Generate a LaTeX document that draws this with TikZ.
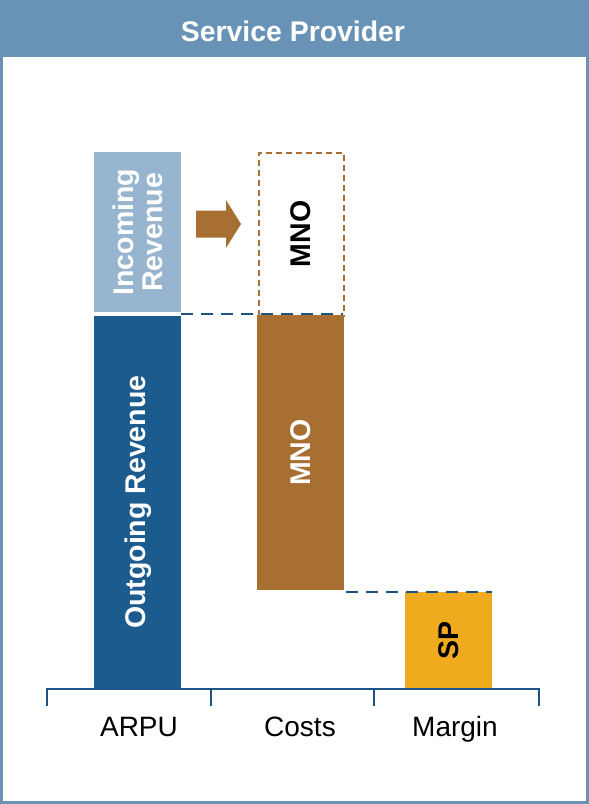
\documentclass[tikz,border=0pt]{standalone}
\usepackage{fontspec}
\setmainfont{Liberation Sans}
\definecolor{hdrblue}{HTML}{6893B6}
\definecolor{lightblue}{HTML}{97B5CE}
\definecolor{darkblue}{HTML}{1C5B8D}
\definecolor{axisblue}{HTML}{1B5385}
\definecolor{brown}{HTML}{A86F33}
\definecolor{amber}{HTML}{F0AA1E}
\tikzset{
  bar/.style={draw=none, minimum width=87pt, inner sep=0pt, anchor=north west},
  bartext/.style={font=\fontsize{28.5}{32}\selectfont\bfseries, rotate=90},
  guide/.style={draw=axisblue, line width=2.6pt, dash pattern=on 11.5pt off 8.5pt},
  axisline/.style={draw=axisblue, line width=2pt},
  cat/.style={font=\fontsize{28}{32}\selectfont, anchor=base}
}
\begin{document}
\begin{tikzpicture}[x=1pt, y=-1pt]
\useasboundingbox (0,0) rectangle (589,804);
% frame and title bar
\fill[hdrblue] (0,0) rectangle (589,57);
\draw[hdrblue, line width=2.5pt] (1.5,1.5) rectangle (587.5,802.5);
\node[text=white, font=\fontsize{28.4}{32}\selectfont\bfseries] (title) at (293,31) {Service Provider};

% ARPU column
\node[bar, fill=lightblue, minimum height=160pt] (inc) at (94,152) {};
\node[bar, fill=darkblue, minimum height=372pt] (out) at (94,316) {};
\node[bartext, text=white, align=center] at (inc.center) {Incoming\\[-3pt]Revenue};
\node[bartext, text=white] at (out.center) {Outgoing Revenue};

% Costs column
\node[bar, draw=brown, line width=2pt, dash pattern=on 6pt off 4pt, minimum width=85pt, minimum height=163pt] (mnoin) at (257.5,151.5) {};
\node[bar, fill=brown, minimum height=275pt] (mno) at (257,315) {};
\node[bartext] at (mnoin.center) {MNO};
\node[bartext, text=white] at (mno.center) {MNO};

% Margin column
\node[bar, fill=amber, minimum height=96pt] (sp) at (405,592) {};
\node[bartext] at (sp.center) {SP};

% transfer arrow
\coordinate (arr) at (196,224);
\fill[brown] (arr) ++(0,-13.5) -- ++(30,0) -- ++(0,-10.5) -- ++(15,24)
  -- ++(-15,24) -- ++(0,-10.5) -- ++(-30,0) -- cycle;

% level guides
\coordinate (lv1) at (343,314);
\coordinate (lv2) at (sp.north east);
\draw[guide] (inc.east |- lv1) -- (lv1);
\draw[guide] (mno.east |- lv2) ++(2,0) -- (lv2);

% category axis
\coordinate (t0) at (47,706);
\coordinate (t1) at (211,706);
\coordinate (t2) at (374,706);
\coordinate (t3) at (539,706);
\draw[axisline] (t0) -- (47,689) -- (539,689) -- (t3);
\draw[axisline] (t1) -- (211,689);
\draw[axisline] (t2) -- (374,689);
\node[cat] (arpu) at (139,736) {ARPU};
\node[cat] (costs) at (300,736) {Costs};
\node[cat] (margin) at (455,736) {Margin};
\end{tikzpicture}
\end{document}
